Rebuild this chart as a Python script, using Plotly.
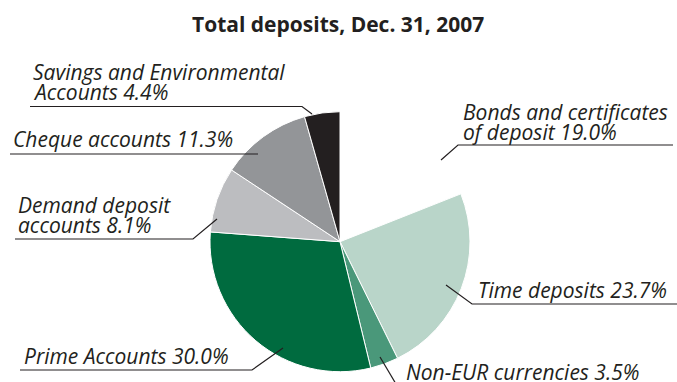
import plotly.graph_objects as go

# Canvas size in px
W, H = 677, 382

# Deposit mix at year end 2007 (% of total deposits), clockwise from 12 o'clock
categories = [
    "Bonds and certificates of deposit",
    "Time deposits",
    "Non-EUR currencies",
    "Prime Accounts",
    "Demand deposit accounts",
    "Cheque accounts",
    "Savings and Environmental Accounts",
]
shares = [19.0, 23.7, 3.5, 30.0, 8.1, 11.3, 4.4]
slice_colors = ["#ffffff", "#b9d5c9", "#4a987a", "#006b3f", "#bcbdc0", "#939598", "#231f20"]

# Label text (line prefixes; the value is appended from `shares`)
label_lines = [
    ["Bonds and certificates", "of deposit"],
    ["Time deposits"],
    ["Non-EUR currencies"],
    ["Prime Accounts"],
    ["Demand deposit", "accounts"],
    ["Cheque accounts"],
    ["Savings and Environmental", "Accounts"],
]

# Label placement: left x, baseline of the last line, and leader path
label_layout = [
    dict(x=462, base=140, path=[(673, 145), (458, 145), (441, 160)]),
    dict(x=477, base=298, path=[(677, 304), (472, 304), (446, 285)]),
    dict(x=405, base=380, path=[(380, 357), (396, 384)]),
    dict(x=23, base=364, path=[(20, 370), (252, 370), (283, 348)]),
    dict(x=17, base=233, path=[(15, 239), (193, 239), (217, 219)]),
    dict(x=12, base=147, path=[(10, 154), (258, 154)]),
    dict(x=32, base=100, path=[(30, 106.5), (302, 106.5), (312, 114)]),
]

TEXT = "#231f20"
FONT = "Open Sans"
FS = 21
LINE_GAP = 20

# Pie geometry (px)
cx, cy, r = 340, 241.7, 130

fig = go.Figure()
fig.add_trace(go.Pie(
    labels=categories,
    values=shares,
    sort=False,
    direction="clockwise",
    rotation=0,
    marker=dict(colors=slice_colors, line=dict(color="#ffffff", width=1)),
    textinfo="none",
    hoverinfo="label+percent",
    showlegend=False,
    domain=dict(x=[(cx - r) / W, (cx + r) / W], y=[(H - cy - r) / H, (H - cy + r) / H]),
))

annotations = []
shapes = []
for lines, share, lay in zip(label_lines, shares, label_layout):
    texts = lines[:-1] + [f"{lines[-1]} {share:.1f}%"]
    n = len(texts)
    for i, t in enumerate(texts):
        base = lay["base"] - (n - 1 - i) * LINE_GAP
        annotations.append(dict(
            x=lay["x"], y=base - 0.388 * FS, xref="x", yref="y",
            text=t, showarrow=False,
            xanchor="left", yanchor="middle", borderpad=0,
            font=dict(family=FONT, size=FS, color=TEXT, style="italic"),
        ))
    pts = lay["path"]
    d = "M " + " L ".join(f"{px},{py}" for px, py in pts)
    shapes.append(dict(type="path", path=d, xref="x", yref="y",
                       line=dict(color=TEXT, width=1.2)))

TITLE_FS = 21
annotations.append(dict(
    x=338, y=32 - 0.388 * TITLE_FS, xref="x", yref="y",
    text="<b>Total deposits, Dec. 31, 2007</b>", showarrow=False,
    xanchor="center", yanchor="middle", borderpad=0,
    font=dict(family=FONT, size=TITLE_FS, color=TEXT),
))

fig.update_layout(
    width=W, height=H,
    margin=dict(l=0, r=0, t=0, b=0),
    paper_bgcolor="#ffffff", plot_bgcolor="rgba(0,0,0,0)",
    xaxis=dict(range=[0, W], visible=False, fixedrange=True),
    yaxis=dict(range=[H, 0], visible=False, fixedrange=True),
    annotations=annotations,
    shapes=shapes,
)

fig.write_html("out.html")
